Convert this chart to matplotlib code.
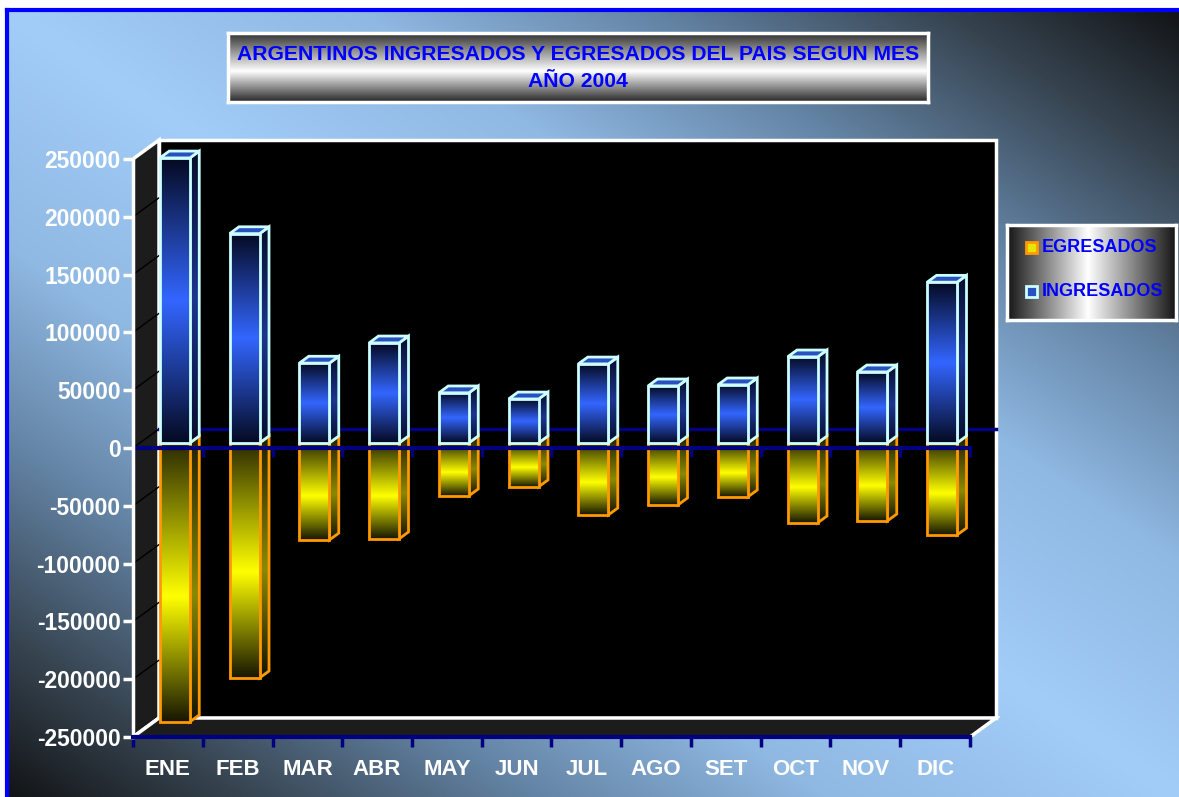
import numpy as np
import matplotlib
matplotlib.use("Agg")
import matplotlib.pyplot as plt
from matplotlib.colors import LinearSegmentedColormap
from matplotlib.patches import Polygon, Rectangle

plt.rcParams['font.family'] = ['Liberation Sans', 'DejaVu Sans']
plt.rcParams['font.weight'] = 'bold'
plt.rcParams['axes.unicode_minus'] = False

# datos
meses = ['ENE', 'FEB', 'MAR', 'ABR', 'MAY', 'JUN', 'JUL', 'AGO', 'SET', 'OCT', 'NOV', 'DIC']
ingresados = [246500, 181000, 69000, 86500, 43300, 38000, 68300, 49300, 50200, 74400, 61400, 139000]
egresados = [-241300, -203300, -84000, -83000, -45800, -38000, -62300, -53600, -46700, -69200, -67500, -79600]
series = ['EGRESADOS', 'INGRESADOS']
titulo = 'ARGENTINOS INGRESADOS Y EGRESADOS DEL PAIS SEGUN MES\nAÑO 2004'
yticks = list(range(-250000, 250001, 50000))

W, H = 1179, 797
fig = plt.figure(figsize=(W / 100, H / 100), dpi=100)
fig.patch.set_facecolor('white')


def fr(x0, y0, x1, y1):
    # caja en pixeles (origen arriba-izquierda) -> fraccion de figura
    return [x0 / W, 1 - y1 / H, (x1 - x0) / W, (y1 - y0) / H]


def cmap_de(stops):
    return LinearSegmentedColormap.from_list('', stops)


# ---- fondo con degradado diagonal ----
bg = fig.add_axes(fr(7, 10, W + 2, H + 2))
X, Y = np.meshgrid(np.linspace(0, 1, 400), np.linspace(0, 1, 300))
bg.imshow(np.abs(X - Y), cmap=cmap_de([(0, '#a2cdf8'), (0.3, '#8fb8e2'), (0.55, '#6383a4'),
                                       (0.8, '#36434f'), (1, '#121416')]),
          aspect='auto', extent=(0, 1, 0, 1), origin='upper', vmin=0, vmax=1)
bg.set_xticks([]); bg.set_yticks([])
for s in ['right', 'bottom']:
    bg.spines[s].set_visible(False)
for s in ['left', 'top']:
    bg.spines[s].set_color('#0000ff')
    bg.spines[s].set_linewidth(3)

# ---- geometria del area de trazado ----
X0, X12, YTOP, YBOT = 133, 970, 159, 737
UX = (X12 - X0) / 12
UY = (YBOT - YTOP) / 500000
DXP, DYP = 26, 19
DX, DY = DXP / UX, DYP / UY
ax = fig.add_axes(fr(X0, YTOP - DYP - 4, X12 + DXP + 4, YBOT))
ax.patch.set_alpha(0)

NAVY = '#000080'
YMIN, YMAX = -250000, 250000

# paredes
ax.add_patch(Polygon([(DX, YMIN + DY), (12 + DX, YMIN + DY), (12 + DX, YMAX + DY), (DX, YMAX + DY)],
                     fc='black', ec='white', lw=2.5, zorder=1))
ax.add_patch(Polygon([(0, YMIN), (DX, YMIN + DY), (DX, YMAX + DY), (0, YMAX)],
                     fc='#1c1c1c', ec='white', lw=2.5, zorder=1.1))
ax.add_patch(Polygon([(0, YMIN), (12, YMIN), (12 + DX, YMIN + DY), (DX, YMIN + DY)],
                     fc='#1c1c1c', ec='white', lw=2.5, zorder=1.1))
for t in yticks[1:-1]:
    ax.plot([0, DX], [t, t + DY], color='black', lw=1, zorder=1.2)

# linea cero del fondo
ax.plot([DX, 12 + DX], [DY, DY], color=NAVY, lw=2.5, zorder=1.5)


def cara(xs, ys, stops, z, edge, vertical=True):
    poly = Polygon(np.column_stack([xs, ys]), closed=True, fc='none', ec='none', zorder=z)
    ax.add_patch(poly)
    arr = np.linspace(0, 1, 256).reshape(-1, 1)
    if not vertical:
        arr = arr.T
    im = ax.imshow(arr, cmap=cmap_de(stops), extent=(min(xs), max(xs), min(ys), max(ys)),
                   origin='upper', aspect='auto', interpolation='bilinear', zorder=z)
    im.set_clip_path(poly)
    ax.add_patch(Polygon(np.column_stack([xs, ys]), closed=True, fill=False, ec=edge,
                         lw=2, joinstyle='miter', zorder=z + 0.05))


BW = 30 / UX      # ancho frontal de la barra
FO = 0.27         # posicion de la barra en profundidad
BD = 0.36         # profundidad de la barra
bdx, bdy = BD * DX, BD * DY

azul_front = [(0, '#050a22'), (0.5, '#3366ff'), (1, '#050a22')]
azul_lado = [(0, '#070d2a'), (0.5, '#1c3590'), (1, '#070d2a')]
amar_front = [(0, '#2a2a00'), (0.55, '#ffff00'), (1, '#161600')]
amar_lado = [(0, '#1e1e00'), (0.55, '#8a8a00'), (1, '#121200')]

for i in range(len(meses)):
    x0 = i + 0.5 - BW / 2 + FO * DX
    x1 = x0 + BW
    base = FO * DY
    # egresados (negativos)
    y = egresados[i] + base
    cara([x1, x1 + bdx, x1 + bdx, x1], [base, base + bdy, y + bdy, y], amar_lado, 3, '#ff9900')
    cara([x0, x1, x1, x0], [base, base, y, y], amar_front, 3.2, '#ff9900')
    # ingresados (positivos)
    y = ingresados[i] + base
    cara([x1, x1 + bdx, x1 + bdx, x1], [base, base + bdy, y + bdy, y], azul_lado, 4, '#ccffff')
    ax.add_patch(Polygon([(x0, y), (x1, y), (x1 + bdx, y + bdy), (x0 + bdx, y + bdy)],
                         fc='#2a50c0', ec='#ccffff', lw=2, joinstyle='miter', zorder=4.1))
    cara([x0, x1, x1, x0], [base, base, y, y], azul_front, 4.2, '#ccffff')

# linea cero frontal con marcas
ax.plot([0, 12], [0, 0], color=NAVY, lw=3, zorder=6)
ax.vlines(range(13), -9 / UY, 0, color=NAVY, lw=2.5, zorder=6)

ax.set_xlim(0, 12 + (DXP + 4) / UX)
ax.set_ylim(YMIN, YMAX + (DYP + 4) / UY)
ax.set_aspect('auto')

ax.spines['top'].set_visible(False)
ax.spines['right'].set_visible(False)
ax.spines['left'].set_bounds(YMIN, YMAX)
ax.spines['left'].set_color('white')
ax.spines['left'].set_linewidth(2.5)
ax.spines['bottom'].set_bounds(0, 12)
ax.spines['bottom'].set_color(NAVY)
ax.spines['bottom'].set_linewidth(3)
for s in ax.spines.values():
    s.set_zorder(10)

ax.set_xticks(range(13))
ax.set_xticklabels([])
ax.set_xticks([i + 0.5 for i in range(12)], minor=True)
ax.set_xticklabels(meses, minor=True)
ax.tick_params(axis='x', which='major', color=NAVY, length=7, width=2.5)
ax.tick_params(axis='x', which='minor', length=0, pad=15.5, labelcolor='white', labelsize=16)
ax.set_yticks(yticks)
ax.set_yticklabels([str(t) for t in yticks])
ax.tick_params(axis='y', color='white', length=7, width=2.5, pad=2, labelcolor='white', labelsize=16.5)

# ---- titulo ----
tax = fig.add_axes(fr(228, 33, 928, 102))
tax.imshow(np.linspace(0, 1, 256).reshape(-1, 1),
           cmap=cmap_de([(0, '#303030'), (0.55, '#ffffff'), (1, '#262626')]),
           aspect='auto', extent=(0, 1, 0, 1), origin='upper')
tax.set_xlim(0, 1); tax.set_ylim(0, 1)
tax.set_xticks([]); tax.set_yticks([])
for s in tax.spines.values():
    s.set_color('white'); s.set_linewidth(2.5)
tax.text(0.5, 0.49, titulo, ha='center', va='center', color='#0000ff', fontsize=15.2,
         linespacing=1.5, transform=tax.transAxes)

# ---- leyenda ----
lax = fig.add_axes(fr(1007, 225, 1176, 320))
lax.imshow(np.linspace(0, 1, 256).reshape(1, -1),
           cmap=cmap_de([(0, '#151515'), (0.48, '#ffffff'), (1, '#151515')]),
           aspect='auto', extent=(0, 1, 0, 1), origin='upper')
lax.set_xlim(0, 1); lax.set_ylim(0, 1)
lax.set_xticks([]); lax.set_yticks([])
for s in lax.spines.values():
    s.set_color('white'); s.set_linewidth(2.5)
estilos = {'EGRESADOS': ('#e6e600', '#ff9900'), 'INGRESADOS': ('#2a50c0', '#ccffff')}
for k, nombre in enumerate(series):
    yc = 1 - (22 + 44 * k) / 95
    fc, ec = estilos[nombre]
    lax.add_patch(Rectangle((19 / 169, yc - 5.5 / 95), 11 / 169, 11 / 95, fc=fc, ec=ec, lw=2))
    lax.text(35 / 169, yc, nombre, color='#0000ff', fontsize=13, va='center', ha='left')

fig.savefig('out.png', dpi=100)
